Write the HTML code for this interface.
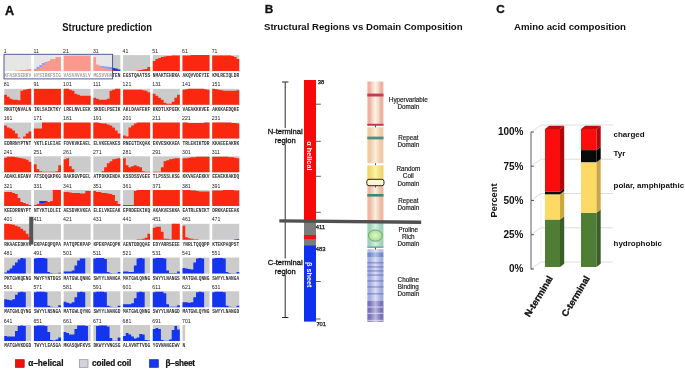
<!DOCTYPE html>
<html><head><meta charset="utf-8"><title>Structure prediction</title>
<style>html,body{margin:0;padding:0;background:#fff}svg{display:block}text{font-family:"Liberation Sans",Arial,sans-serif;fill:#111}.b{font-weight:bold}.m{font-family:"Liberation Mono",monospace;font-size:4.5px;fill:#333;font-weight:bold}.n{font-size:6.2px;fill:#222}.d{font-size:6.3px;text-anchor:middle;fill:#222;stroke:#222;stroke-width:.18px}</style></head>
<body>
<svg width="685" height="370" viewBox="0 0 685 370">
<rect width="685" height="370" fill="#fff"/>
<text class="b" x="5" y="15.3" font-size="12.6" stroke="#111" stroke-width=".35">A</text>
<text class="b" x="62.3" y="30.7" font-size="10" textLength="89.8" lengthAdjust="spacingAndGlyphs">Structure prediction</text>
<text class="b" x="264.8" y="13.1" font-size="11.8" stroke="#111" stroke-width=".3">B</text>
<text class="b" x="264" y="30.1" font-size="9.7" textLength="198.6" lengthAdjust="spacingAndGlyphs">Structural Regions vs Domain Composition</text>
<text class="b" x="496.2" y="13.3" font-size="11.8" stroke="#111" stroke-width=".3">C</text>
<text class="b" x="514" y="30.1" font-size="9.7" textLength="112" lengthAdjust="spacingAndGlyphs">Amino acid composition</text>
<g>
<text class="n" transform="translate(3.7,52.7) scale(.84,1)">1</text>
<rect x="4.20" y="55.10" width="27.00" height="16.0" fill="#cbcbcb"/>
<path d="M4.20 71.10L4.20 71.10L6.90 71.10L6.90 71.10L9.60 71.10L9.60 71.10L12.30 71.10L12.30 71.10L15.00 71.10L15.00 70.60L17.70 70.60L17.70 70.60L20.40 70.60L20.40 70.10L23.10 70.10L23.10 70.10L25.80 70.10L25.80 69.60L28.50 69.60L28.50 69.10L31.20 69.10L31.20 71.10Z" fill="#fb2810"/>
<text class="m" x="4.2" y="77.1" textLength="27.0" lengthAdjust="spacingAndGlyphs">KFASKSERKV</text>
<text class="n" transform="translate(33.4,52.7) scale(.84,1)">11</text>
<rect x="33.92" y="55.10" width="27.00" height="16.0" fill="#cbcbcb"/>
<path d="M33.92 71.10L33.92 69.10L36.62 69.10L36.62 67.10L39.32 67.10L39.32 65.10L42.02 65.10L42.02 63.10L44.72 63.10L44.72 62.10L47.42 62.10L47.42 71.10L50.12 71.10L50.12 71.10L52.82 71.10L52.82 71.10L55.52 71.10L55.52 71.10L58.22 71.10L58.22 71.10L60.92 71.10L60.92 71.10Z" fill="#1434ee"/>
<path d="M33.92 71.10L33.92 70.10L36.62 70.10L36.62 69.10L39.32 69.10L39.32 67.10L42.02 67.10L42.02 65.10L44.72 65.10L44.72 63.10L47.42 63.10L47.42 61.10L50.12 61.10L50.12 59.10L52.82 59.10L52.82 59.10L55.52 59.10L55.52 57.10L58.22 57.10L58.22 57.10L60.92 57.10L60.92 71.10Z" fill="#fb2810"/>
<text class="m" x="33.9" y="77.1" textLength="27.0" lengthAdjust="spacingAndGlyphs">HYSIRKFSIG</text>
<text class="n" transform="translate(63.1,52.7) scale(.84,1)">21</text>
<rect x="63.64" y="55.10" width="27.00" height="16.0" fill="#cbcbcb"/>
<path d="M63.64 71.10L63.64 55.60L66.34 55.60L66.34 55.60L69.04 55.60L69.04 55.60L71.74 55.60L71.74 55.60L74.44 55.60L74.44 55.60L77.14 55.60L77.14 55.60L79.84 55.60L79.84 55.60L82.54 55.60L82.54 55.60L85.24 55.60L85.24 55.60L87.94 55.60L87.94 55.60L90.64 55.60L90.64 71.10Z" fill="#fb2810"/>
<text class="m" x="63.6" y="77.1" textLength="27.0" lengthAdjust="spacingAndGlyphs">VASVAVASLV</text>
<text class="n" transform="translate(92.9,52.7) scale(.84,1)">31</text>
<rect x="93.36" y="55.10" width="27.00" height="16.0" fill="#cbcbcb"/>
<path d="M93.36 71.10L93.36 71.10L96.06 71.10L96.06 71.10L98.76 71.10L98.76 65.80L101.46 65.80L101.46 66.10L104.16 66.10L104.16 66.40L106.86 66.40L106.86 66.80L109.56 66.80L109.56 67.10L112.26 67.10L112.26 68.10L114.96 68.10L114.96 68.60L117.66 68.60L117.66 69.60L120.36 69.60L120.36 71.10Z" fill="#1434ee"/>
<path d="M93.36 71.10L93.36 57.10L96.06 57.10L96.06 64.60L98.76 64.60L98.76 66.60L101.46 66.60L101.46 67.60L104.16 67.60L104.16 68.60L106.86 68.60L106.86 69.10L109.56 69.10L109.56 69.60L112.26 69.60L112.26 70.10L114.96 70.10L114.96 71.10L117.66 71.10L117.66 71.10L120.36 71.10L120.36 71.10Z" fill="#fb2810"/>
<text class="m" x="93.4" y="77.1" textLength="27.0" lengthAdjust="spacingAndGlyphs">MGSVVHATEN</text>
<text class="n" transform="translate(122.6,52.7) scale(.84,1)">41</text>
<rect x="123.08" y="55.10" width="27.00" height="16.0" fill="#cbcbcb"/>
<path d="M123.08 71.10L123.08 71.10L125.78 71.10L125.78 71.10L128.48 71.10L128.48 71.10L131.18 71.10L131.18 71.10L133.88 71.10L133.88 71.10L136.58 71.10L136.58 70.60L139.28 70.60L139.28 70.10L141.98 70.10L141.98 69.60L144.68 69.60L144.68 69.10L147.38 69.10L147.38 67.10L150.08 67.10L150.08 71.10Z" fill="#fb2810"/>
<text class="m" x="123.1" y="77.1" textLength="27.0" lengthAdjust="spacingAndGlyphs">EGSTQAATSS</text>
<text class="n" transform="translate(152.3,52.7) scale(.84,1)">51</text>
<rect x="152.80" y="55.10" width="27.00" height="16.0" fill="#cbcbcb"/>
<path d="M152.80 71.10L152.80 61.10L155.50 61.10L155.50 59.10L158.20 59.10L158.20 58.10L160.90 58.10L160.90 57.10L163.60 57.10L163.60 56.60L166.30 56.60L166.30 56.10L169.00 56.10L169.00 56.10L171.70 56.10L171.70 55.60L174.40 55.60L174.40 55.60L177.10 55.60L177.10 55.60L179.80 55.60L179.80 71.10Z" fill="#fb2810"/>
<text class="m" x="152.8" y="77.1" textLength="27.0" lengthAdjust="spacingAndGlyphs">NMAKTEHRKA</text>
<text class="n" transform="translate(182.0,52.7) scale(.84,1)">61</text>
<rect x="182.52" y="55.10" width="27.00" height="16.0" fill="#cbcbcb"/>
<path d="M182.52 71.10L182.52 55.60L185.22 55.60L185.22 55.60L187.92 55.60L187.92 55.60L190.62 55.60L190.62 55.10L193.32 55.10L193.32 55.10L196.02 55.10L196.02 55.10L198.72 55.10L198.72 55.10L201.42 55.10L201.42 55.10L204.12 55.10L204.12 55.10L206.82 55.10L206.82 55.10L209.52 55.10L209.52 71.10Z" fill="#fb2810"/>
<text class="m" x="182.5" y="77.1" textLength="27.0" lengthAdjust="spacingAndGlyphs">AKQVVDEYIE</text>
<text class="n" transform="translate(211.7,52.7) scale(.84,1)">71</text>
<rect x="212.24" y="55.10" width="27.00" height="16.0" fill="#cbcbcb"/>
<path d="M212.24 71.10L212.24 55.60L214.94 55.60L214.94 55.60L217.64 55.60L217.64 55.60L220.34 55.60L220.34 55.60L223.04 55.60L223.04 55.60L225.74 55.60L225.74 55.60L228.44 55.60L228.44 55.60L231.14 55.60L231.14 56.10L233.84 56.10L233.84 57.10L236.54 57.10L236.54 59.10L239.24 59.10L239.24 71.10Z" fill="#fb2810"/>
<text class="m" x="212.2" y="77.1" textLength="27.0" lengthAdjust="spacingAndGlyphs">KMLREIQLDR</text>
<text class="n" transform="translate(3.7,86.4) scale(.84,1)">81</text>
<rect x="4.20" y="88.84" width="27.00" height="16.0" fill="#cbcbcb"/>
<path d="M4.20 104.84L4.20 94.84L6.90 94.84L6.90 96.84L9.60 96.84L9.60 98.84L12.30 98.84L12.30 99.84L15.00 99.84L15.00 99.84L17.70 99.84L17.70 100.34L20.40 100.34L20.40 90.84L23.10 90.84L23.10 89.84L25.80 89.84L25.80 89.34L28.50 89.34L28.50 88.84L31.20 88.84L31.20 104.84Z" fill="#fb2810"/>
<text class="m" x="4.2" y="110.8" textLength="27.0" lengthAdjust="spacingAndGlyphs">RKHTQNVALN</text>
<text class="n" transform="translate(33.4,86.4) scale(.84,1)">91</text>
<rect x="33.92" y="88.84" width="27.00" height="16.0" fill="#cbcbcb"/>
<path d="M33.92 104.84L33.92 88.84L36.62 88.84L36.62 88.84L39.32 88.84L39.32 88.84L42.02 88.84L42.02 88.84L44.72 88.84L44.72 88.84L47.42 88.84L47.42 88.84L50.12 88.84L50.12 88.84L52.82 88.84L52.82 88.84L55.52 88.84L55.52 88.84L58.22 88.84L58.22 88.84L60.92 88.84L60.92 104.84Z" fill="#fb2810"/>
<text class="m" x="33.9" y="110.8" textLength="27.0" lengthAdjust="spacingAndGlyphs">IKLSAIKTKY</text>
<text class="n" transform="translate(63.1,86.4) scale(.84,1)">101</text>
<rect x="63.64" y="88.84" width="27.00" height="16.0" fill="#cbcbcb"/>
<path d="M63.64 104.84L63.64 88.84L66.34 88.84L66.34 88.84L69.04 88.84L69.04 89.84L71.74 89.84L71.74 90.84L74.44 90.84L74.44 93.84L77.14 93.84L77.14 94.84L79.84 94.84L79.84 95.84L82.54 95.84L82.54 95.84L85.24 95.84L85.24 95.84L87.94 95.84L87.94 95.84L90.64 95.84L90.64 104.84Z" fill="#fb2810"/>
<text class="m" x="63.6" y="110.8" textLength="27.0" lengthAdjust="spacingAndGlyphs">LRELNVLEEK</text>
<text class="n" transform="translate(92.9,86.4) scale(.84,1)">111</text>
<rect x="93.36" y="88.84" width="27.00" height="16.0" fill="#cbcbcb"/>
<path d="M93.36 104.84L93.36 97.84L96.06 97.84L96.06 98.84L98.76 98.84L98.76 99.84L101.46 99.84L101.46 99.84L104.16 99.84L104.16 99.84L106.86 99.84L106.86 98.84L109.56 98.84L109.56 90.84L112.26 90.84L112.26 89.84L114.96 89.84L114.96 88.84L117.66 88.84L117.66 88.84L120.36 88.84L120.36 104.84Z" fill="#fb2810"/>
<text class="m" x="93.4" y="110.8" textLength="27.0" lengthAdjust="spacingAndGlyphs">SKDELPSEIK</text>
<text class="n" transform="translate(122.6,86.4) scale(.84,1)">121</text>
<rect x="123.08" y="88.84" width="27.00" height="16.0" fill="#cbcbcb"/>
<path d="M123.08 104.84L123.08 89.84L125.78 89.84L125.78 89.84L128.48 89.84L128.48 89.84L131.18 89.84L131.18 89.84L133.88 89.84L133.88 89.84L136.58 89.84L136.58 89.84L139.28 89.84L139.28 89.84L141.98 89.84L141.98 90.34L144.68 90.34L144.68 90.84L147.38 90.84L147.38 92.34L150.08 92.34L150.08 104.84Z" fill="#fb2810"/>
<text class="m" x="123.1" y="110.8" textLength="27.0" lengthAdjust="spacingAndGlyphs">AKLDAAFEKF</text>
<text class="n" transform="translate(152.3,86.4) scale(.84,1)">131</text>
<rect x="152.80" y="88.84" width="27.00" height="16.0" fill="#cbcbcb"/>
<path d="M152.80 104.84L152.80 93.84L155.50 93.84L155.50 95.84L158.20 95.84L158.20 97.84L160.90 97.84L160.90 99.84L163.60 99.84L163.60 102.84L166.30 102.84L166.30 103.84L169.00 103.84L169.00 103.84L171.70 103.84L171.70 101.84L174.40 101.84L174.40 97.84L177.10 97.84L177.10 94.84L179.80 94.84L179.80 104.84Z" fill="#fb2810"/>
<text class="m" x="152.8" y="110.8" textLength="27.0" lengthAdjust="spacingAndGlyphs">KKDTLKPGEK</text>
<text class="n" transform="translate(182.0,86.4) scale(.84,1)">141</text>
<rect x="182.52" y="88.84" width="27.00" height="16.0" fill="#cbcbcb"/>
<path d="M182.52 104.84L182.52 89.84L185.22 89.84L185.22 89.34L187.92 89.34L187.92 88.84L190.62 88.84L190.62 88.84L193.32 88.84L193.32 88.84L196.02 88.84L196.02 88.84L198.72 88.84L198.72 88.84L201.42 88.84L201.42 88.84L204.12 88.84L204.12 89.34L206.82 89.34L206.82 89.84L209.52 89.84L209.52 104.84Z" fill="#fb2810"/>
<text class="m" x="182.5" y="110.8" textLength="27.0" lengthAdjust="spacingAndGlyphs">VAEAKKKVEE</text>
<text class="n" transform="translate(211.7,86.4) scale(.84,1)">151</text>
<rect x="212.24" y="88.84" width="27.00" height="16.0" fill="#cbcbcb"/>
<path d="M212.24 104.84L212.24 88.84L214.94 88.84L214.94 89.34L217.64 89.34L217.64 89.84L220.34 89.84L220.34 90.34L223.04 90.34L223.04 90.84L225.74 90.84L225.74 90.84L228.44 90.84L228.44 90.84L231.14 90.84L231.14 90.84L233.84 90.84L233.84 90.84L236.54 90.84L236.54 90.34L239.24 90.34L239.24 104.84Z" fill="#fb2810"/>
<text class="m" x="212.2" y="110.8" textLength="27.0" lengthAdjust="spacingAndGlyphs">AKKKAEDQKE</text>
<text class="n" transform="translate(3.7,120.2) scale(.84,1)">161</text>
<rect x="4.20" y="122.58" width="27.00" height="16.0" fill="#cbcbcb"/>
<path d="M4.20 138.58L4.20 125.58L6.90 125.58L6.90 127.58L9.60 127.58L9.60 128.58L12.30 128.58L12.30 130.58L15.00 130.58L15.00 133.58L17.70 133.58L17.70 137.58L20.40 137.58L20.40 138.58L23.10 138.58L23.10 136.58L25.80 136.58L25.80 133.58L28.50 133.58L28.50 131.58L31.20 131.58L31.20 138.58Z" fill="#fb2810"/>
<text class="m" x="4.2" y="144.6" textLength="27.0" lengthAdjust="spacingAndGlyphs">EDRRNYPTNT</text>
<text class="n" transform="translate(33.4,120.2) scale(.84,1)">171</text>
<rect x="33.92" y="122.58" width="27.00" height="16.0" fill="#cbcbcb"/>
<path d="M33.92 138.58L33.92 128.58L36.62 128.58L36.62 128.58L39.32 128.58L39.32 128.58L42.02 128.58L42.02 122.58L44.72 122.58L44.72 122.58L47.42 122.58L47.42 122.58L50.12 122.58L50.12 122.58L52.82 122.58L52.82 122.58L55.52 122.58L55.52 122.58L58.22 122.58L58.22 122.58L60.92 122.58L60.92 138.58Z" fill="#fb2810"/>
<text class="m" x="33.9" y="144.6" textLength="27.0" lengthAdjust="spacingAndGlyphs">YKTLELEIAE</text>
<text class="n" transform="translate(63.1,120.2) scale(.84,1)">181</text>
<rect x="63.64" y="122.58" width="27.00" height="16.0" fill="#cbcbcb"/>
<path d="M63.64 138.58L63.64 122.58L66.34 122.58L66.34 122.58L69.04 122.58L69.04 122.58L71.74 122.58L71.74 122.58L74.44 122.58L74.44 122.58L77.14 122.58L77.14 122.58L79.84 122.58L79.84 122.58L82.54 122.58L82.54 122.58L85.24 122.58L85.24 122.58L87.94 122.58L87.94 122.58L90.64 122.58L90.64 138.58Z" fill="#fb2810"/>
<text class="m" x="63.6" y="144.6" textLength="27.0" lengthAdjust="spacingAndGlyphs">FDVKVKEAEL</text>
<text class="n" transform="translate(92.9,120.2) scale(.84,1)">191</text>
<rect x="93.36" y="122.58" width="27.00" height="16.0" fill="#cbcbcb"/>
<path d="M93.36 138.58L93.36 122.58L96.06 122.58L96.06 122.58L98.76 122.58L98.76 123.08L101.46 123.08L101.46 123.58L104.16 123.58L104.16 123.58L106.86 123.58L106.86 124.58L109.56 124.58L109.56 125.58L112.26 125.58L112.26 127.58L114.96 127.58L114.96 130.58L117.66 130.58L117.66 133.58L120.36 133.58L120.36 138.58Z" fill="#fb2810"/>
<text class="m" x="93.4" y="144.6" textLength="27.0" lengthAdjust="spacingAndGlyphs">ELVKEEAKES</text>
<text class="n" transform="translate(122.6,120.2) scale(.84,1)">201</text>
<rect x="123.08" y="122.58" width="27.00" height="16.0" fill="#cbcbcb"/>
<path d="M123.08 138.58L123.08 135.58L125.78 135.58L125.78 136.58L128.48 136.58L128.48 127.58L131.18 127.58L131.18 125.58L133.88 125.58L133.88 123.58L136.58 123.58L136.58 122.58L139.28 122.58L139.28 122.58L141.98 122.58L141.98 122.58L144.68 122.58L144.68 122.58L147.38 122.58L147.38 122.58L150.08 122.58L150.08 138.58Z" fill="#fb2810"/>
<text class="m" x="123.1" y="144.6" textLength="27.0" lengthAdjust="spacingAndGlyphs">RNEGTIKQAK</text>
<text class="n" transform="translate(152.3,120.2) scale(.84,1)">211</text>
<rect x="152.80" y="122.58" width="27.00" height="16.0" fill="#cbcbcb"/>
<path d="M152.80 138.58L152.80 122.58L155.50 122.58L155.50 122.58L158.20 122.58L158.20 122.58L160.90 122.58L160.90 122.58L163.60 122.58L163.60 122.58L166.30 122.58L166.30 122.58L169.00 122.58L169.00 122.58L171.70 122.58L171.70 122.58L174.40 122.58L174.40 122.58L177.10 122.58L177.10 122.58L179.80 122.58L179.80 138.58Z" fill="#fb2810"/>
<text class="m" x="152.8" y="144.6" textLength="27.0" lengthAdjust="spacingAndGlyphs">EKVESKKAEA</text>
<text class="n" transform="translate(182.0,120.2) scale(.84,1)">221</text>
<rect x="182.52" y="122.58" width="27.00" height="16.0" fill="#cbcbcb"/>
<path d="M182.52 138.58L182.52 122.58L185.22 122.58L185.22 122.58L187.92 122.58L187.92 123.08L190.62 123.08L190.62 123.08L193.32 123.08L193.32 123.08L196.02 123.08L196.02 123.08L198.72 123.08L198.72 123.08L201.42 123.08L201.42 123.08L204.12 123.08L204.12 122.58L206.82 122.58L206.82 122.58L209.52 122.58L209.52 138.58Z" fill="#fb2810"/>
<text class="m" x="182.5" y="144.6" textLength="27.0" lengthAdjust="spacingAndGlyphs">TRLENIKTDR</text>
<text class="n" transform="translate(211.7,120.2) scale(.84,1)">231</text>
<rect x="212.24" y="122.58" width="27.00" height="16.0" fill="#cbcbcb"/>
<path d="M212.24 138.58L212.24 122.58L214.94 122.58L214.94 122.58L217.64 122.58L217.64 122.58L220.34 122.58L220.34 122.58L223.04 122.58L223.04 122.58L225.74 122.58L225.74 122.58L228.44 122.58L228.44 122.58L231.14 122.58L231.14 123.08L233.84 123.08L233.84 123.08L236.54 123.08L236.54 123.58L239.24 123.58L239.24 138.58Z" fill="#fb2810"/>
<text class="m" x="212.2" y="144.6" textLength="27.0" lengthAdjust="spacingAndGlyphs">KKAEEEAKRK</text>
<text class="n" transform="translate(3.7,153.9) scale(.84,1)">241</text>
<rect x="4.20" y="156.32" width="27.00" height="16.0" fill="#cbcbcb"/>
<path d="M4.20 172.32L4.20 157.82L6.90 157.82L6.90 156.82L9.60 156.82L9.60 156.82L12.30 156.82L12.30 156.82L15.00 156.82L15.00 157.32L17.70 157.32L17.70 157.82L20.40 157.82L20.40 158.32L23.10 158.32L23.10 158.82L25.80 158.82L25.80 159.82L28.50 159.82L28.50 161.82L31.20 161.82L31.20 172.32Z" fill="#fb2810"/>
<text class="m" x="4.2" y="178.3" textLength="27.0" lengthAdjust="spacingAndGlyphs">ADAKLKEANV</text>
<text class="n" transform="translate(33.4,153.9) scale(.84,1)">251</text>
<rect x="33.92" y="156.32" width="27.00" height="16.0" fill="#cbcbcb"/>
<path d="M33.92 172.32L33.92 164.32L36.62 164.32L36.62 169.32L39.32 169.32L39.32 171.32L42.02 171.32L42.02 171.82L44.72 171.82L44.72 171.82L47.42 171.82L47.42 171.82L50.12 171.82L50.12 171.82L52.82 171.82L52.82 171.82L55.52 171.82L55.52 171.32L58.22 171.32L58.22 165.32L60.92 165.32L60.92 172.32Z" fill="#fb2810"/>
<text class="m" x="33.9" y="178.3" textLength="27.0" lengthAdjust="spacingAndGlyphs">ATSDQGKPKG</text>
<text class="n" transform="translate(63.1,153.9) scale(.84,1)">261</text>
<rect x="63.64" y="156.32" width="27.00" height="16.0" fill="#cbcbcb"/>
<path d="M63.64 172.32L63.64 159.32L66.34 159.32L66.34 158.32L69.04 158.32L69.04 166.32L71.74 166.32L71.74 169.32L74.44 169.32L74.44 172.32L77.14 172.32L77.14 172.32L79.84 172.32L79.84 172.32L82.54 172.32L82.54 172.32L85.24 172.32L85.24 172.32L87.94 172.32L87.94 172.32L90.64 172.32L90.64 172.32Z" fill="#fb2810"/>
<text class="m" x="63.6" y="178.3" textLength="27.0" lengthAdjust="spacingAndGlyphs">RAKRGVPGEL</text>
<text class="n" transform="translate(92.9,153.9) scale(.84,1)">271</text>
<rect x="93.36" y="156.32" width="27.00" height="16.0" fill="#cbcbcb"/>
<path d="M93.36 172.32L93.36 172.32L96.06 172.32L96.06 172.32L98.76 172.32L98.76 172.32L101.46 172.32L101.46 171.32L104.16 171.32L104.16 167.32L106.86 167.32L106.86 163.32L109.56 163.32L109.56 161.32L112.26 161.32L112.26 159.32L114.96 159.32L114.96 158.82L117.66 158.82L117.66 158.32L120.36 158.32L120.36 172.32Z" fill="#fb2810"/>
<text class="m" x="93.4" y="178.3" textLength="27.0" lengthAdjust="spacingAndGlyphs">ATPDKKENDA</text>
<text class="n" transform="translate(122.6,153.9) scale(.84,1)">281</text>
<rect x="123.08" y="156.32" width="27.00" height="16.0" fill="#cbcbcb"/>
<path d="M123.08 172.32L123.08 158.32L125.78 158.32L125.78 165.32L128.48 165.32L128.48 167.32L131.18 167.32L131.18 166.32L133.88 166.32L133.88 165.32L136.58 165.32L136.58 166.32L139.28 166.32L139.28 167.32L141.98 167.32L141.98 171.32L144.68 171.32L144.68 171.82L147.38 171.82L147.38 171.82L150.08 171.82L150.08 172.32Z" fill="#fb2810"/>
<text class="m" x="123.1" y="178.3" textLength="27.0" lengthAdjust="spacingAndGlyphs">KSSDSSVGEE</text>
<text class="n" transform="translate(152.3,153.9) scale(.84,1)">291</text>
<rect x="152.80" y="156.32" width="27.00" height="16.0" fill="#cbcbcb"/>
<path d="M152.80 172.32L152.80 171.82L155.50 171.82L155.50 171.82L158.20 171.82L158.20 171.82L160.90 171.82L160.90 167.32L163.60 167.32L163.60 161.32L166.30 161.32L166.30 160.32L169.00 160.32L169.00 159.32L171.70 159.32L171.70 158.82L174.40 158.82L174.40 158.32L177.10 158.32L177.10 158.32L179.80 158.32L179.80 172.32Z" fill="#fb2810"/>
<text class="m" x="152.8" y="178.3" textLength="27.0" lengthAdjust="spacingAndGlyphs">TLPSSSLKSG</text>
<text class="n" transform="translate(182.0,153.9) scale(.84,1)">301</text>
<rect x="182.52" y="156.32" width="27.00" height="16.0" fill="#cbcbcb"/>
<path d="M182.52 172.32L182.52 158.32L185.22 158.32L185.22 158.32L187.92 158.32L187.92 157.82L190.62 157.82L190.62 157.32L193.32 157.32L193.32 157.32L196.02 157.32L196.02 156.82L198.72 156.82L198.72 156.82L201.42 156.82L201.42 156.82L204.12 156.82L204.12 156.82L206.82 156.82L206.82 156.82L209.52 156.82L209.52 172.32Z" fill="#fb2810"/>
<text class="m" x="182.5" y="178.3" textLength="27.0" lengthAdjust="spacingAndGlyphs">KKVAEAEKKV</text>
<text class="n" transform="translate(211.7,153.9) scale(.84,1)">311</text>
<rect x="212.24" y="156.32" width="27.00" height="16.0" fill="#cbcbcb"/>
<path d="M212.24 172.32L212.24 156.82L214.94 156.82L214.94 156.82L217.64 156.82L217.64 156.82L220.34 156.82L220.34 156.82L223.04 156.82L223.04 156.82L225.74 156.82L225.74 156.82L228.44 156.82L228.44 157.32L231.14 157.32L231.14 157.32L233.84 157.32L233.84 157.82L236.54 157.82L236.54 158.32L239.24 158.32L239.24 172.32Z" fill="#fb2810"/>
<text class="m" x="212.2" y="178.3" textLength="27.0" lengthAdjust="spacingAndGlyphs">EEAEKKAKDQ</text>
<text class="n" transform="translate(3.7,187.7) scale(.84,1)">321</text>
<rect x="4.20" y="190.06" width="27.00" height="16.0" fill="#cbcbcb"/>
<path d="M4.20 206.06L4.20 192.06L6.90 192.06L6.90 192.06L9.60 192.06L9.60 192.06L12.30 192.06L12.30 193.06L15.00 193.06L15.00 194.06L17.70 194.06L17.70 198.06L20.40 198.06L20.40 202.06L23.10 202.06L23.10 203.06L25.80 203.06L25.80 204.06L28.50 204.06L28.50 205.06L31.20 205.06L31.20 206.06Z" fill="#fb2810"/>
<text class="m" x="4.2" y="212.1" textLength="27.0" lengthAdjust="spacingAndGlyphs">KEEDRRNYPT</text>
<text class="n" transform="translate(33.4,187.7) scale(.84,1)">331</text>
<rect x="33.92" y="190.06" width="27.00" height="16.0" fill="#cbcbcb"/>
<path d="M33.92 206.06L33.92 206.06L36.62 206.06L36.62 206.06L39.32 206.06L39.32 201.06L42.02 201.06L42.02 201.06L44.72 201.06L44.72 201.06L47.42 201.06L47.42 206.06L50.12 206.06L50.12 206.06L52.82 206.06L52.82 206.06L55.52 206.06L55.52 206.06L58.22 206.06L58.22 206.06L60.92 206.06L60.92 206.06Z" fill="#1434ee"/>
<path d="M33.92 206.06L33.92 205.06L36.62 205.06L36.62 204.06L39.32 204.06L39.32 203.06L42.02 203.06L42.02 203.06L44.72 203.06L44.72 202.06L47.42 202.06L47.42 202.06L50.12 202.06L50.12 201.06L52.82 201.06L52.82 190.06L55.52 190.06L55.52 190.06L58.22 190.06L58.22 190.06L60.92 190.06L60.92 206.06Z" fill="#fb2810"/>
<text class="m" x="33.9" y="212.1" textLength="27.0" lengthAdjust="spacingAndGlyphs">NTYKTLDLEI</text>
<text class="n" transform="translate(63.1,187.7) scale(.84,1)">341</text>
<rect x="63.64" y="190.06" width="27.00" height="16.0" fill="#cbcbcb"/>
<path d="M63.64 206.06L63.64 192.06L66.34 192.06L66.34 192.06L69.04 192.06L69.04 192.56L71.74 192.56L71.74 193.06L74.44 193.06L74.44 193.06L77.14 193.06L77.14 193.06L79.84 193.06L79.84 193.56L82.54 193.56L82.54 193.56L85.24 193.56L85.24 191.06L87.94 191.06L87.94 191.06L90.64 191.06L90.64 206.06Z" fill="#fb2810"/>
<text class="m" x="63.6" y="212.1" textLength="27.0" lengthAdjust="spacingAndGlyphs">AESDVKVKEA</text>
<text class="n" transform="translate(92.9,187.7) scale(.84,1)">351</text>
<rect x="93.36" y="190.06" width="27.00" height="16.0" fill="#cbcbcb"/>
<path d="M93.36 206.06L93.36 191.06L96.06 191.06L96.06 192.06L98.76 192.06L98.76 192.06L101.46 192.06L101.46 193.06L104.16 193.06L104.16 193.06L106.86 193.06L106.86 193.56L109.56 193.56L109.56 194.06L112.26 194.06L112.26 195.06L114.96 195.06L114.96 201.06L117.66 201.06L117.66 204.06L120.36 204.06L120.36 206.06Z" fill="#fb2810"/>
<text class="m" x="93.4" y="212.1" textLength="27.0" lengthAdjust="spacingAndGlyphs">ELELVKEEAK</text>
<text class="n" transform="translate(122.6,187.7) scale(.84,1)">361</text>
<rect x="123.08" y="190.06" width="27.00" height="16.0" fill="#cbcbcb"/>
<path d="M123.08 206.06L123.08 205.06L125.78 205.06L125.78 205.06L128.48 205.06L128.48 205.06L131.18 205.06L131.18 205.06L133.88 205.06L133.88 191.06L136.58 191.06L136.58 190.06L139.28 190.06L139.28 190.06L141.98 190.06L141.98 190.06L144.68 190.06L144.68 190.06L147.38 190.06L147.38 190.06L150.08 190.06L150.08 206.06Z" fill="#fb2810"/>
<text class="m" x="123.1" y="212.1" textLength="27.0" lengthAdjust="spacingAndGlyphs">EPRDEEKIKQ</text>
<text class="n" transform="translate(152.3,187.7) scale(.84,1)">371</text>
<rect x="152.80" y="190.06" width="27.00" height="16.0" fill="#cbcbcb"/>
<path d="M152.80 206.06L152.80 190.06L155.50 190.06L155.50 190.06L158.20 190.06L158.20 190.06L160.90 190.06L160.90 190.06L163.60 190.06L163.60 190.06L166.30 190.06L166.30 190.06L169.00 190.06L169.00 190.06L171.70 190.06L171.70 190.06L174.40 190.06L174.40 190.06L177.10 190.06L177.10 190.06L179.80 190.06L179.80 206.06Z" fill="#fb2810"/>
<text class="m" x="152.8" y="212.1" textLength="27.0" lengthAdjust="spacingAndGlyphs">AKAKVESKKA</text>
<text class="n" transform="translate(182.0,187.7) scale(.84,1)">381</text>
<rect x="182.52" y="190.06" width="27.00" height="16.0" fill="#cbcbcb"/>
<path d="M182.52 206.06L182.52 190.06L185.22 190.06L185.22 190.06L187.92 190.06L187.92 190.06L190.62 190.06L190.62 190.56L193.32 190.56L193.32 190.56L196.02 190.56L196.02 191.06L198.72 191.06L198.72 191.56L201.42 191.56L201.42 191.56L204.12 191.56L204.12 191.56L206.82 191.56L206.82 191.56L209.52 191.56L209.52 206.06Z" fill="#fb2810"/>
<text class="m" x="182.5" y="212.1" textLength="27.0" lengthAdjust="spacingAndGlyphs">EATRLENIKT</text>
<text class="n" transform="translate(211.7,187.7) scale(.84,1)">391</text>
<rect x="212.24" y="190.06" width="27.00" height="16.0" fill="#cbcbcb"/>
<path d="M212.24 206.06L212.24 190.56L214.94 190.56L214.94 190.56L217.64 190.56L217.64 190.56L220.34 190.56L220.34 190.56L223.04 190.56L223.04 190.06L225.74 190.06L225.74 190.06L228.44 190.06L228.44 190.06L231.14 190.06L231.14 190.06L233.84 190.06L233.84 190.56L236.54 190.56L236.54 190.56L239.24 190.56L239.24 206.06Z" fill="#fb2810"/>
<text class="m" x="212.2" y="212.1" textLength="27.0" lengthAdjust="spacingAndGlyphs">DRKKAEEEAK</text>
<text class="n" transform="translate(3.7,221.4) scale(.84,1)">401</text>
<rect x="4.20" y="223.80" width="27.00" height="16.0" fill="#cbcbcb"/>
<path d="M4.20 239.80L4.20 223.80L6.90 223.80L6.90 223.80L9.60 223.80L9.60 224.30L12.30 224.30L12.30 224.80L15.00 224.80L15.00 225.80L17.70 225.80L17.70 226.80L20.40 226.80L20.40 228.80L23.10 228.80L23.10 230.80L25.80 230.80L25.80 233.80L28.50 233.80L28.50 236.80L31.20 236.80L31.20 239.80Z" fill="#fb2810"/>
<text class="m" x="4.2" y="245.8" textLength="27.0" lengthAdjust="spacingAndGlyphs">RKAAEEDKVK</text>
<text class="n" transform="translate(33.4,221.4) scale(.84,1)">411</text>
<rect x="33.92" y="223.80" width="27.00" height="16.0" fill="#cbcbcb"/>
<text class="m" x="33.9" y="245.8" textLength="27.0" lengthAdjust="spacingAndGlyphs">EKPAEQPQPA</text>
<text class="n" transform="translate(63.1,221.4) scale(.84,1)">421</text>
<rect x="63.64" y="223.80" width="27.00" height="16.0" fill="#cbcbcb"/>
<text class="m" x="63.6" y="245.8" textLength="27.0" lengthAdjust="spacingAndGlyphs">PATQPEKPAP</text>
<text class="n" transform="translate(92.9,221.4) scale(.84,1)">431</text>
<rect x="93.36" y="223.80" width="27.00" height="16.0" fill="#cbcbcb"/>
<text class="m" x="93.4" y="245.8" textLength="27.0" lengthAdjust="spacingAndGlyphs">KPEKPAEQPK</text>
<text class="n" transform="translate(122.6,221.4) scale(.84,1)">441</text>
<rect x="123.08" y="223.80" width="27.00" height="16.0" fill="#cbcbcb"/>
<path d="M123.08 239.80L123.08 239.80L125.78 239.80L125.78 239.80L128.48 239.80L128.48 239.80L131.18 239.80L131.18 239.80L133.88 239.80L133.88 239.80L136.58 239.80L136.58 239.30L139.28 239.30L139.28 239.30L141.98 239.30L141.98 238.80L144.68 238.80L144.68 237.80L147.38 237.80L147.38 233.80L150.08 233.80L150.08 239.80Z" fill="#fb2810"/>
<text class="m" x="123.1" y="245.8" textLength="27.0" lengthAdjust="spacingAndGlyphs">AENTDDQQAE</text>
<text class="n" transform="translate(152.3,221.4) scale(.84,1)">451</text>
<rect x="152.80" y="223.80" width="27.00" height="16.0" fill="#cbcbcb"/>
<path d="M152.80 239.80L152.80 227.80L155.50 227.80L155.50 226.80L158.20 226.80L158.20 226.80L160.90 226.80L160.90 231.80L163.60 231.80L163.60 238.80L166.30 238.80L166.30 238.80L169.00 238.80L169.00 239.30L171.70 239.30L171.70 223.80L174.40 223.80L174.40 223.80L177.10 223.80L177.10 223.80L179.80 223.80L179.80 239.80Z" fill="#fb2810"/>
<text class="m" x="152.8" y="245.8" textLength="27.0" lengthAdjust="spacingAndGlyphs">EDYARRSEEE</text>
<text class="n" transform="translate(182.0,221.4) scale(.84,1)">461</text>
<rect x="182.52" y="223.80" width="27.00" height="16.0" fill="#cbcbcb"/>
<path d="M182.52 239.80L182.52 225.80L185.22 225.80L185.22 237.30L187.92 237.30L187.92 238.30L190.62 238.30L190.62 238.80L193.32 238.80L193.32 239.30L196.02 239.30L196.02 239.30L198.72 239.30L198.72 239.80L201.42 239.80L201.42 239.80L204.12 239.80L204.12 239.80L206.82 239.80L206.82 239.80L209.52 239.80L209.52 239.80Z" fill="#fb2810"/>
<text class="m" x="182.5" y="245.8" textLength="27.0" lengthAdjust="spacingAndGlyphs">YNRLTQQQPP</text>
<text class="n" transform="translate(211.7,221.4) scale(.84,1)">471</text>
<rect x="212.24" y="223.80" width="27.00" height="16.0" fill="#cbcbcb"/>
<path d="M212.24 239.80L212.24 239.80L214.94 239.80L214.94 239.80L217.64 239.80L217.64 239.80L220.34 239.80L220.34 239.80L223.04 239.80L223.04 239.80L225.74 239.80L225.74 239.80L228.44 239.80L228.44 239.80L231.14 239.80L231.14 239.80L233.84 239.80L233.84 239.30L236.54 239.30L236.54 239.10L239.24 239.10L239.24 239.80Z" fill="#1434ee"/>
<text class="m" x="212.2" y="245.8" textLength="27.0" lengthAdjust="spacingAndGlyphs">KTEKPAQPST</text>
<text class="n" transform="translate(3.7,255.1) scale(.84,1)">481</text>
<rect x="4.20" y="257.54" width="27.00" height="16.0" fill="#cbcbcb"/>
<path d="M4.20 273.54L4.20 272.54L6.90 272.54L6.90 270.54L9.60 270.54L9.60 268.54L12.30 268.54L12.30 265.54L15.00 265.54L15.00 262.54L17.70 262.54L17.70 259.54L20.40 259.54L20.40 258.04L23.10 258.04L23.10 258.54L25.80 258.54L25.80 273.54L28.50 273.54L28.50 273.54L31.20 273.54L31.20 273.54Z" fill="#1434ee"/>
<text class="m" x="4.2" y="279.5" textLength="27.0" lengthAdjust="spacingAndGlyphs">PKTGWKQENG</text>
<text class="n" transform="translate(33.4,255.1) scale(.84,1)">491</text>
<rect x="33.92" y="257.54" width="27.00" height="16.0" fill="#cbcbcb"/>
<path d="M33.92 273.54L33.92 258.54L36.62 258.54L36.62 258.04L39.32 258.04L39.32 258.04L42.02 258.04L42.02 258.04L44.72 258.04L44.72 258.54L47.42 258.54L47.42 272.04L50.12 272.04L50.12 273.04L52.82 273.04L52.82 273.24L55.52 273.24L55.52 273.24L58.22 273.24L58.22 272.74L60.92 272.74L60.92 273.54Z" fill="#1434ee"/>
<text class="m" x="33.9" y="279.5" textLength="27.0" lengthAdjust="spacingAndGlyphs">MWYFYNTDGS</text>
<text class="n" transform="translate(63.1,255.1) scale(.84,1)">501</text>
<rect x="63.64" y="257.54" width="27.00" height="16.0" fill="#cbcbcb"/>
<path d="M63.64 273.54L63.64 271.54L66.34 271.54L66.34 271.54L69.04 271.54L69.04 271.54L71.74 271.54L71.74 270.54L74.44 270.54L74.44 265.54L77.14 265.54L77.14 260.54L79.84 260.54L79.84 258.54L82.54 258.54L82.54 258.54L85.24 258.54L85.24 273.54L87.94 273.54L87.94 273.54L90.64 273.54L90.64 273.54Z" fill="#1434ee"/>
<text class="m" x="63.6" y="279.5" textLength="27.0" lengthAdjust="spacingAndGlyphs">MATGWLQNNG</text>
<text class="n" transform="translate(92.9,255.1) scale(.84,1)">511</text>
<rect x="93.36" y="257.54" width="27.00" height="16.0" fill="#cbcbcb"/>
<path d="M93.36 273.54L93.36 258.54L96.06 258.54L96.06 258.04L98.76 258.04L98.76 258.04L101.46 258.04L101.46 258.04L104.16 258.04L104.16 259.04L106.86 259.04L106.86 272.04L109.56 272.04L109.56 273.04L112.26 273.04L112.26 273.24L114.96 273.24L114.96 273.24L117.66 273.24L117.66 272.04L120.36 272.04L120.36 273.54Z" fill="#1434ee"/>
<text class="m" x="93.4" y="279.5" textLength="27.0" lengthAdjust="spacingAndGlyphs">SWYYLNANGA</text>
<text class="n" transform="translate(122.6,255.1) scale(.84,1)">521</text>
<rect x="123.08" y="257.54" width="27.00" height="16.0" fill="#cbcbcb"/>
<path d="M123.08 273.54L123.08 271.54L125.78 271.54L125.78 271.54L128.48 271.54L128.48 272.04L131.18 272.04L131.18 272.04L133.88 272.04L133.88 265.54L136.58 265.54L136.58 258.54L139.28 258.54L139.28 258.04L141.98 258.04L141.98 258.54L144.68 258.54L144.68 273.54L147.38 273.54L147.38 273.54L150.08 273.54L150.08 273.54Z" fill="#1434ee"/>
<text class="m" x="123.1" y="279.5" textLength="27.0" lengthAdjust="spacingAndGlyphs">MATGWLQNNG</text>
<text class="n" transform="translate(152.3,255.1) scale(.84,1)">531</text>
<rect x="152.80" y="257.54" width="27.00" height="16.0" fill="#cbcbcb"/>
<path d="M152.80 273.54L152.80 258.54L155.50 258.54L155.50 258.04L158.20 258.04L158.20 258.04L160.90 258.04L160.90 258.04L163.60 258.04L163.60 258.54L166.30 258.54L166.30 270.54L169.00 270.54L169.00 273.04L171.70 273.04L171.70 273.04L174.40 273.04L174.40 273.04L177.10 273.04L177.10 271.54L179.80 271.54L179.80 273.54Z" fill="#1434ee"/>
<text class="m" x="152.8" y="279.5" textLength="27.0" lengthAdjust="spacingAndGlyphs">SWYYLNANGS</text>
<text class="n" transform="translate(182.0,255.1) scale(.84,1)">541</text>
<rect x="182.52" y="257.54" width="27.00" height="16.0" fill="#cbcbcb"/>
<path d="M182.52 273.54L182.52 268.04L185.22 268.04L185.22 268.54L187.92 268.54L187.92 269.04L190.62 269.04L190.62 269.54L193.32 269.54L193.32 262.54L196.02 262.54L196.02 258.54L198.72 258.54L198.72 258.04L201.42 258.04L201.42 258.54L204.12 258.54L204.12 273.54L206.82 273.54L206.82 273.54L209.52 273.54L209.52 273.54Z" fill="#1434ee"/>
<text class="m" x="182.5" y="279.5" textLength="27.0" lengthAdjust="spacingAndGlyphs">MATGWLQNNG</text>
<text class="n" transform="translate(211.7,255.1) scale(.84,1)">551</text>
<rect x="212.24" y="257.54" width="27.00" height="16.0" fill="#cbcbcb"/>
<path d="M212.24 273.54L212.24 258.54L214.94 258.54L214.94 258.04L217.64 258.04L217.64 258.04L220.34 258.04L220.34 258.04L223.04 258.04L223.04 258.54L225.74 258.54L225.74 272.04L228.44 272.04L228.44 273.04L231.14 273.04L231.14 273.24L233.84 273.24L233.84 273.24L236.54 273.24L236.54 272.04L239.24 272.04L239.24 273.54Z" fill="#1434ee"/>
<text class="m" x="212.2" y="279.5" textLength="27.0" lengthAdjust="spacingAndGlyphs">SWYYLNANGA</text>
<text class="n" transform="translate(3.7,288.9) scale(.84,1)">561</text>
<rect x="4.20" y="291.28" width="27.00" height="16.0" fill="#cbcbcb"/>
<path d="M4.20 307.28L4.20 299.28L6.90 299.28L6.90 299.78L9.60 299.78L9.60 300.28L12.30 300.28L12.30 299.28L15.00 299.28L15.00 294.78L17.70 294.78L17.70 292.28L20.40 292.28L20.40 291.78L23.10 291.78L23.10 292.28L25.80 292.28L25.80 307.28L28.50 307.28L28.50 307.28L31.20 307.28L31.20 307.28Z" fill="#1434ee"/>
<text class="m" x="4.2" y="313.3" textLength="27.0" lengthAdjust="spacingAndGlyphs">MATGWLQYNG</text>
<text class="n" transform="translate(33.4,288.9) scale(.84,1)">571</text>
<rect x="33.92" y="291.28" width="27.00" height="16.0" fill="#cbcbcb"/>
<path d="M33.92 307.28L33.92 292.28L36.62 292.28L36.62 291.78L39.32 291.78L39.32 291.78L42.02 291.78L42.02 291.78L44.72 291.78L44.72 292.28L47.42 292.28L47.42 305.78L50.12 305.78L50.12 306.78L52.82 306.78L52.82 306.98L55.52 306.98L55.52 306.98L58.22 306.98L58.22 305.28L60.92 305.28L60.92 307.28Z" fill="#1434ee"/>
<text class="m" x="33.9" y="313.3" textLength="27.0" lengthAdjust="spacingAndGlyphs">SWYYLNSNGA</text>
<text class="n" transform="translate(63.1,288.9) scale(.84,1)">581</text>
<rect x="63.64" y="291.28" width="27.00" height="16.0" fill="#cbcbcb"/>
<path d="M63.64 307.28L63.64 301.78L66.34 301.78L66.34 302.78L69.04 302.78L69.04 303.48L71.74 303.48L71.74 302.28L74.44 302.28L74.44 297.28L77.14 297.28L77.14 292.28L79.84 292.28L79.84 291.78L82.54 291.78L82.54 292.28L85.24 292.28L85.24 307.28L87.94 307.28L87.94 307.28L90.64 307.28L90.64 307.28Z" fill="#1434ee"/>
<text class="m" x="63.6" y="313.3" textLength="27.0" lengthAdjust="spacingAndGlyphs">MATGWLQYNG</text>
<text class="n" transform="translate(92.9,288.9) scale(.84,1)">591</text>
<rect x="93.36" y="291.28" width="27.00" height="16.0" fill="#cbcbcb"/>
<path d="M93.36 307.28L93.36 292.28L96.06 292.28L96.06 291.78L98.76 291.78L98.76 291.78L101.46 291.78L101.46 291.78L104.16 291.78L104.16 292.28L106.86 292.28L106.86 305.78L109.56 305.78L109.56 306.78L112.26 306.78L112.26 306.98L114.96 306.98L114.96 306.98L117.66 306.98L117.66 305.78L120.36 305.78L120.36 307.28Z" fill="#1434ee"/>
<text class="m" x="93.4" y="313.3" textLength="27.0" lengthAdjust="spacingAndGlyphs">SWYYLNANGD</text>
<text class="n" transform="translate(122.6,288.9) scale(.84,1)">601</text>
<rect x="123.08" y="291.28" width="27.00" height="16.0" fill="#cbcbcb"/>
<path d="M123.08 307.28L123.08 304.28L125.78 304.28L125.78 304.28L128.48 304.28L128.48 304.28L131.18 304.28L131.18 303.28L133.88 303.28L133.88 298.28L136.58 298.28L136.58 292.28L139.28 292.28L139.28 291.78L141.98 291.78L141.98 292.28L144.68 292.28L144.68 307.28L147.38 307.28L147.38 307.28L150.08 307.28L150.08 307.28Z" fill="#1434ee"/>
<text class="m" x="123.1" y="313.3" textLength="27.0" lengthAdjust="spacingAndGlyphs">MATGWLQNNG</text>
<text class="n" transform="translate(152.3,288.9) scale(.84,1)">611</text>
<rect x="152.80" y="291.28" width="27.00" height="16.0" fill="#cbcbcb"/>
<path d="M152.80 307.28L152.80 292.28L155.50 292.28L155.50 291.78L158.20 291.78L158.20 291.78L160.90 291.78L160.90 291.78L163.60 291.78L163.60 293.28L166.30 293.28L166.30 304.28L169.00 304.28L169.00 306.78L171.70 306.78L171.70 306.78L174.40 306.78L174.40 306.78L177.10 306.78L177.10 305.28L179.80 305.28L179.80 307.28Z" fill="#1434ee"/>
<text class="m" x="152.8" y="313.3" textLength="27.0" lengthAdjust="spacingAndGlyphs">SWYYLNANGD</text>
<text class="n" transform="translate(182.0,288.9) scale(.84,1)">621</text>
<rect x="182.52" y="291.28" width="27.00" height="16.0" fill="#cbcbcb"/>
<path d="M182.52 307.28L182.52 302.28L185.22 302.28L185.22 302.28L187.92 302.28L187.92 302.78L190.62 302.78L190.62 302.28L193.32 302.28L193.32 297.28L196.02 297.28L196.02 292.28L198.72 292.28L198.72 291.78L201.42 291.78L201.42 292.28L204.12 292.28L204.12 307.28L206.82 307.28L206.82 307.28L209.52 307.28L209.52 307.28Z" fill="#1434ee"/>
<text class="m" x="182.5" y="313.3" textLength="27.0" lengthAdjust="spacingAndGlyphs">MATGWLQYNG</text>
<text class="n" transform="translate(211.7,288.9) scale(.84,1)">631</text>
<rect x="212.24" y="291.28" width="27.00" height="16.0" fill="#cbcbcb"/>
<path d="M212.24 307.28L212.24 292.28L214.94 292.28L214.94 291.78L217.64 291.78L217.64 291.78L220.34 291.78L220.34 291.78L223.04 291.78L223.04 292.28L225.74 292.28L225.74 305.78L228.44 305.78L228.44 306.78L231.14 306.78L231.14 306.98L233.84 306.98L233.84 306.98L236.54 306.98L236.54 305.78L239.24 305.78L239.24 307.28Z" fill="#1434ee"/>
<text class="m" x="212.2" y="313.3" textLength="27.0" lengthAdjust="spacingAndGlyphs">SWYYLNANGD</text>
<text class="n" transform="translate(3.7,322.6) scale(.84,1)">641</text>
<rect x="4.20" y="325.02" width="27.00" height="16.0" fill="#cbcbcb"/>
<path d="M4.20 341.02L4.20 336.02L6.90 336.02L6.90 336.52L9.60 336.52L9.60 336.52L12.30 336.52L12.30 336.52L15.00 336.52L15.00 331.02L17.70 331.02L17.70 326.02L20.40 326.02L20.40 325.52L23.10 325.52L23.10 326.02L25.80 326.02L25.80 341.02L28.50 341.02L28.50 341.02L31.20 341.02L31.20 341.02Z" fill="#1434ee"/>
<text class="m" x="4.2" y="347.0" textLength="27.0" lengthAdjust="spacingAndGlyphs">MATGWVKDGD</text>
<text class="n" transform="translate(33.4,322.6) scale(.84,1)">651</text>
<rect x="33.92" y="325.02" width="27.00" height="16.0" fill="#cbcbcb"/>
<path d="M33.92 341.02L33.92 326.02L36.62 326.02L36.62 325.52L39.32 325.52L39.32 325.52L42.02 325.52L42.02 325.52L44.72 325.52L44.72 326.02L47.42 326.02L47.42 332.02L50.12 332.02L50.12 340.02L52.82 340.02L52.82 340.52L55.52 340.52L55.52 339.52L58.22 339.52L58.22 337.52L60.92 337.52L60.92 341.02Z" fill="#1434ee"/>
<text class="m" x="33.9" y="347.0" textLength="27.0" lengthAdjust="spacingAndGlyphs">TWYYLEASGA</text>
<text class="n" transform="translate(63.1,322.6) scale(.84,1)">661</text>
<rect x="63.64" y="325.02" width="27.00" height="16.0" fill="#cbcbcb"/>
<path d="M63.64 341.02L63.64 332.02L66.34 332.02L66.34 333.02L69.04 333.02L69.04 334.52L71.74 334.52L71.74 334.52L74.44 334.52L74.44 329.02L77.14 329.02L77.14 325.52L79.84 325.52L79.84 325.52L82.54 325.52L82.54 325.52L85.24 325.52L85.24 326.02L87.94 326.02L87.94 341.02L90.64 341.02L90.64 341.02Z" fill="#1434ee"/>
<text class="m" x="63.6" y="347.0" textLength="27.0" lengthAdjust="spacingAndGlyphs">MKASQWFKVS</text>
<text class="n" transform="translate(92.9,322.6) scale(.84,1)">671</text>
<rect x="93.36" y="325.02" width="27.00" height="16.0" fill="#cbcbcb"/>
<path d="M93.36 341.02L93.36 341.02L96.06 341.02L96.06 326.02L98.76 326.02L98.76 325.52L101.46 325.52L101.46 325.52L104.16 325.52L104.16 325.52L106.86 325.52L106.86 326.52L109.56 326.52L109.56 338.02L112.26 338.02L112.26 340.72L114.96 340.72L114.96 340.72L117.66 340.72L117.66 337.52L120.36 337.52L120.36 341.02Z" fill="#1434ee"/>
<text class="m" x="93.4" y="347.0" textLength="27.0" lengthAdjust="spacingAndGlyphs">DKWYYVNGSG</text>
<text class="n" transform="translate(122.6,322.6) scale(.84,1)">681</text>
<rect x="123.08" y="325.02" width="27.00" height="16.0" fill="#cbcbcb"/>
<path d="M123.08 341.02L123.08 336.02L125.78 336.02L125.78 333.02L128.48 333.02L128.48 334.52L131.18 334.52L131.18 336.52L133.88 336.52L133.88 338.52L136.58 338.52L136.58 337.52L139.28 337.52L139.28 334.02L141.98 334.02L141.98 334.52L144.68 334.52L144.68 340.02L147.38 340.02L147.38 340.52L150.08 340.52L150.08 341.02Z" fill="#1434ee"/>
<text class="m" x="123.1" y="347.0" textLength="27.0" lengthAdjust="spacingAndGlyphs">ALAVNTTVDG</text>
<text class="n" transform="translate(152.3,322.6) scale(.84,1)">691</text>
<rect x="152.80" y="325.02" width="27.00" height="16.0" fill="#cbcbcb"/>
<path d="M152.80 341.02L152.80 329.02L155.50 329.02L155.50 328.02L158.20 328.02L158.20 329.02L160.90 329.02L160.90 340.02L163.60 340.02L163.60 340.72L166.30 340.72L166.30 340.72L169.00 340.72L169.00 339.52L171.70 339.52L171.70 330.02L174.40 330.02L174.40 326.02L177.10 326.02L177.10 329.52L179.80 329.52L179.80 341.02Z" fill="#1434ee"/>
<text class="m" x="152.8" y="347.0" textLength="27.0" lengthAdjust="spacingAndGlyphs">YGVNANGEWV</text>
<text class="n" transform="translate(182.0,322.6) scale(.84,1)">701</text>
<rect x="182.52" y="325.02" width="2.70" height="16.0" fill="#cbcbcb"/>
<text class="m" x="182.5" y="347.0" textLength="2.7" lengthAdjust="spacingAndGlyphs">N</text>
</g>
<rect x="4" y="54.3" width="108.6" height="24.6" fill="#fff" fill-opacity="0.52" stroke="#3a4a90" stroke-width="0.9"/>
<rect x="29.2" y="216.8" width="4.2" height="27.8" fill="#555"/>
<rect x="15.5" y="359.7" width="8.7" height="7.6" fill="#f01010" stroke="#b00000" stroke-width="0.7"/>
<text class="b" x="28.2" y="366.4" font-size="8.24" stroke="#111" stroke-width=".22">α–helical</text>
<rect x="79.3" y="359.7" width="8.7" height="7.6" fill="#d4d4dc" stroke="#8a8a96" stroke-width="0.7"/>
<text class="b" x="92" y="366.4" font-size="8.2" letter-spacing="-0.08" stroke="#111" stroke-width=".22">coiled coil</text>
<rect x="149.6" y="359.7" width="8.7" height="7.6" fill="#1838f0" stroke="#1020a0" stroke-width="0.7"/>
<text class="b" x="165.6" y="366.4" font-size="8.2" letter-spacing="-0.25" stroke="#111" stroke-width=".22">β–sheet</text>
<g>
<path d="M282 82H288.4M285.2 82V128M285.2 144.5V220M282 220.6H288.4M285.2 222V258.5M285.2 275V317.5M282 317.5H288.4" stroke="#2a2a2a" stroke-width="1" fill="none"/>
<rect x="304" y="80" width="12" height="141" fill="#f80808"/>
<rect x="304" y="221" width="12" height="14" fill="#7c7c7c"/>
<rect x="304" y="235" width="12" height="4.8" fill="#f01018"/>
<rect x="304" y="239.8" width="12" height="5.4" fill="#7c7c7c"/>
<rect x="304" y="245.2" width="12" height="76.4" fill="#1030f0"/>
<path d="M316 104.2H320.8M316 141.3H320.8M316 176.3H320.8M316 212.3H320.8M316 281.5H320.8M316 319H320.5" stroke="#333" stroke-width="0.8" fill="none"/>
<text x="317.8" y="84" font-size="5.8" stroke="#111" stroke-width="0.25">38</text>
<text x="315.8" y="229" font-size="5.8" stroke="#111" stroke-width="0.25">411</text>
<text x="315.8" y="250.6" font-size="5.8" stroke="#111" stroke-width="0.25">483</text>
<text x="316.4" y="325.9" font-size="5.8" stroke="#111" stroke-width="0.25">701</text>
<text x="285.2" y="134.2" font-size="7.6" text-anchor="middle" stroke="#111" stroke-width="0.3">N-terminal</text>
<text x="285.2" y="142.7" font-size="7.6" text-anchor="middle" stroke="#111" stroke-width="0.3">region</text>
<text x="285.2" y="265" font-size="7.6" text-anchor="middle" stroke="#111" stroke-width="0.3">C-terminal</text>
<text x="285.2" y="273.6" font-size="7.6" text-anchor="middle" stroke="#111" stroke-width="0.3">region</text>
<text transform="translate(306.9,141.3) rotate(90) scale(1.14,1)" font-size="6.4" class="b" style="fill:#fff">α helical</text>
<text transform="translate(306.9,262) rotate(90) scale(1.14,1)" font-size="6.4" class="b" style="fill:#fff">β sheet</text>
<defs><linearGradient id="gp"><stop offset="0" stop-color="#f2c0ac"/><stop offset="0.12" stop-color="#ecaaa2"/><stop offset="0.34" stop-color="#f6dcc8"/><stop offset="0.5" stop-color="#fbf4e4"/><stop offset="0.66" stop-color="#f6dcc8"/><stop offset="0.88" stop-color="#ecaaa2"/><stop offset="1" stop-color="#f2c0ac"/></linearGradient><linearGradient id="gt"><stop offset="0" stop-color="#f2d0af"/><stop offset="0.14" stop-color="#efc6a5"/><stop offset="0.5" stop-color="#f9efd7"/><stop offset="0.86" stop-color="#efc6a5"/><stop offset="1" stop-color="#f2d0af"/></linearGradient><linearGradient id="gy"><stop offset="0" stop-color="#ebd46c"/><stop offset="0.14" stop-color="#efda72"/><stop offset="0.5" stop-color="#f9f2a8"/><stop offset="0.86" stop-color="#efda72"/><stop offset="1" stop-color="#ebd46c"/></linearGradient><linearGradient id="gq"><stop offset="0" stop-color="#f2bca8"/><stop offset="0.14" stop-color="#f0b5a0"/><stop offset="0.5" stop-color="#f7f0e1"/><stop offset="0.86" stop-color="#f0b5a0"/><stop offset="1" stop-color="#f2bca8"/></linearGradient><linearGradient id="gg"><stop offset="0" stop-color="#a1d4c0"/><stop offset="0.14" stop-color="#9ed0bc"/><stop offset="0.5" stop-color="#d9efe1"/><stop offset="0.86" stop-color="#9ed0bc"/><stop offset="1" stop-color="#a1d4c0"/></linearGradient><linearGradient id="gl"><stop offset="0" stop-color="#c0c0e8"/><stop offset="0.14" stop-color="#b5b5e4"/><stop offset="0.5" stop-color="#e1e1f5"/><stop offset="0.86" stop-color="#b5b5e4"/><stop offset="1" stop-color="#c0c0e8"/></linearGradient><linearGradient id="gd"><stop offset="0" stop-color="#748dca"/><stop offset="0.14" stop-color="#6f8ac6"/><stop offset="0.5" stop-color="#a8c0e4"/><stop offset="0.86" stop-color="#6f8ac6"/><stop offset="1" stop-color="#748dca"/></linearGradient><linearGradient id="gb"><stop offset="0" stop-color="#a8b1e4"/><stop offset="0.14" stop-color="#a2abe1"/><stop offset="0.5" stop-color="#d8def5"/><stop offset="0.86" stop-color="#a2abe1"/><stop offset="1" stop-color="#a8b1e4"/></linearGradient><linearGradient id="gv"><stop offset="0" stop-color="#7c76bb"/><stop offset="0.14" stop-color="#7670b4"/><stop offset="0.5" stop-color="#bbb4e0"/><stop offset="0.86" stop-color="#7670b4"/><stop offset="1" stop-color="#7c76bb"/></linearGradient><radialGradient id="ge"><stop offset="0" stop-color="#dcf8cc"/><stop offset="1" stop-color="#a8dc90"/></radialGradient></defs>
<rect x="367.3" y="81.5" width="16.2" height="44.30" fill="url(#gp)"/>
<rect x="367.3" y="93.6" width="16.2" height="2.90" fill="#c63a56"/>
<rect x="367.3" y="123.8" width="16.2" height="1.90" fill="#c43450"/>
<rect x="367.3" y="127.2" width="16.2" height="36.00" fill="url(#gt)"/>
<rect x="367.3" y="136.6" width="16.2" height="2.80" fill="#4f9080"/>
<rect x="367.3" y="165.4" width="16.2" height="13.60" fill="url(#gy)"/>
<rect x="367.3" y="179" width="16.2" height="43.00" fill="url(#gq)"/>
<rect x="366.8" y="179.3" width="17.2" height="6.4" rx="2.2" fill="#fcf4d4" stroke="#111" stroke-width="0.9"/>
<rect x="367.3" y="194" width="16.2" height="2.60" fill="#3f8878"/>
<rect x="367.3" y="222" width="16.2" height="24.60" fill="url(#gg)"/>
<ellipse cx="375.40000000000003" cy="235.6" rx="6.9" ry="5.7" fill="url(#ge)" stroke="#4c8048" stroke-width="0.6"/>
<rect x="367.3" y="246.4" width="16.2" height="1.40" fill="#5c9c94"/>
<rect x="367.3" y="249.2" width="16.2" height="3.10" fill="url(#gl)"/>
<rect x="367.3" y="252.3" width="16.2" height="5.30" fill="url(#gd)"/>
<rect x="367.3" y="257.6" width="16.2" height="43.40" fill="url(#gb)"/>
<rect x="367.3" y="301" width="16.2" height="20.80" fill="url(#gv)"/>
<rect x="367.3" y="262.40000000000003" width="16.2" height="0.9" fill="#5850a8" fill-opacity=".7"/>
<rect x="367.3" y="266.5" width="16.2" height="0.9" fill="#5850a8" fill-opacity=".7"/>
<rect x="367.3" y="270.5" width="16.2" height="0.9" fill="#5850a8" fill-opacity=".7"/>
<rect x="367.3" y="274.6" width="16.2" height="0.9" fill="#5850a8" fill-opacity=".7"/>
<rect x="367.3" y="280.5" width="16.2" height="0.9" fill="#5850a8" fill-opacity=".7"/>
<rect x="367.3" y="286.5" width="16.2" height="0.9" fill="#5850a8" fill-opacity=".7"/>
<rect x="367.3" y="293.40000000000003" width="16.2" height="0.9" fill="#5850a8" fill-opacity=".7"/>
<rect x="367.3" y="306.5" width="16.2" height="1.1" fill="#e4e4f8" fill-opacity=".75"/>
<rect x="367.3" y="312.8" width="16.2" height="1.1" fill="#e4e4f8" fill-opacity=".75"/>
<rect x="367.3" y="319.8" width="16.2" height="1.1" fill="#e4e4f8" fill-opacity=".75"/>
<rect x="375.00000000000006" y="125.6" width="0.8" height="1.8" fill="#222"/>
<rect x="375.00000000000006" y="163.29999999999998" width="0.8" height="1.8" fill="#222"/>
<rect x="375.00000000000006" y="185.7" width="0.8" height="1.8" fill="#222"/>
<rect x="375.00000000000006" y="247.7" width="0.8" height="1.8" fill="#222"/>
<path d="M279.3 220.9L421.2 222.2" stroke="#505050" stroke-width="3.4" fill="none"/>
<text class="d" x="408.3" y="101.8">Hypervariable</text>
<text class="d" x="408.3" y="109.0">Domain</text>
<text class="d" x="408.3" y="139.8">Repeat</text>
<text class="d" x="408.3" y="147.0">Domain</text>
<text class="d" x="408.3" y="171.2">Random</text>
<text class="d" x="408.3" y="178.4">Coil</text>
<text class="d" x="408.3" y="185.6">Domain</text>
<text class="d" x="408.3" y="203.2">Repeat</text>
<text class="d" x="408.3" y="210.4">Domain</text>
<text class="d" x="408.3" y="232.0">Proline</text>
<text class="d" x="408.3" y="239.2">Rich</text>
<text class="d" x="408.3" y="246.4">Domain</text>
<text class="d" x="408.3" y="281.5">Choline</text>
<text class="d" x="408.3" y="288.7">Binding</text>
<text class="d" x="408.3" y="295.9">Domain</text>
</g>
<g>
<path d="M531 269.0L541 262.0H613M531 234.8L541 227.8H613M531 200.5L541 193.5H613M531 166.2L541 159.2H613M531 132.0L541 125.0H613" stroke="#d4d4d4" stroke-width="0.8" fill="none"/>
<path d="M541 125V262" stroke="#ececec" stroke-width="0.6" fill="none"/>
<path d="M531 132V269.4M531 132H534M531 166.2H534M531 200.5H534M531 234.7H534M531 269H534" stroke="#4a4a4a" stroke-width="0.9" fill="none"/>
<text class="b" x="523.5" y="272.4" font-size="10" text-anchor="end">0%</text>
<text class="b" x="523.5" y="238.2" font-size="10" text-anchor="end">25%</text>
<text class="b" x="523.5" y="203.9" font-size="10" text-anchor="end">50%</text>
<text class="b" x="523.5" y="169.7" font-size="10" text-anchor="end">75%</text>
<text class="b" x="523.5" y="135.4" font-size="10" text-anchor="end">100%</text>
<text class="b" transform="translate(496.6,200.5) rotate(-90)" font-size="9.3" text-anchor="middle">Percent</text>
<rect x="545" y="219.5" width="15.0" height="47.5" fill="#4f7d33"/>
<path d="M560 267.0L564.2 263.8V216.3L560 219.5Z" fill="#3b5e26"/>
<rect x="545" y="194.3" width="15.0" height="25.3" fill="#fdd966"/>
<path d="M560 219.5L564.2 216.3V191.1L560 194.3Z" fill="#c9a840"/>
<rect x="545" y="191.8" width="15.0" height="2.5" fill="#0a0a0a"/>
<path d="M560 194.3L564.2 191.1V188.6L560 191.8Z" fill="#000"/>
<rect x="545" y="129.0" width="15.0" height="62.8" fill="#fb0d0d"/>
<path d="M560 191.8L564.2 188.6V125.8L560 129.0Z" fill="#b00808"/>
<path d="M545 129.0L549.2 125.8H564.2L560 129.0Z" fill="#c00c0c"/>
<rect x="581" y="212.8" width="15.5" height="54.2" fill="#4f7d33"/>
<path d="M596.5 267.0L600.7 263.8V209.6L596.5 212.8Z" fill="#3b5e26"/>
<rect x="581" y="162.3" width="15.5" height="50.5" fill="#fdd966"/>
<path d="M596.5 212.8L600.7 209.6V159.1L596.5 162.3Z" fill="#c9a840"/>
<rect x="581" y="150.1" width="15.5" height="12.1" fill="#0a0a0a"/>
<path d="M596.5 162.3L600.7 159.1V146.9L596.5 150.1Z" fill="#000"/>
<rect x="581" y="129.0" width="15.5" height="21.1" fill="#fb0d0d"/>
<path d="M596.5 150.1L600.7 146.9V125.8L596.5 129.0Z" fill="#b00808"/>
<path d="M581 129.0L585.2 125.8H600.7L596.5 129.0Z" fill="#c00c0c"/>
<text class="b" x="613.5" y="137.4" font-size="8">charged</text>
<text class="b" x="613.5" y="155.7" font-size="8">Tyr</text>
<text class="b" x="613.5" y="187.7" font-size="8">polar, amphipathic</text>
<text class="b" x="613.5" y="246.3" font-size="8">hydrophobic</text>
<text class="b" transform="translate(553.2,278.2) rotate(-59)" font-size="9.3" text-anchor="end" stroke="#111" stroke-width=".3">N-terminal</text>
<text class="b" transform="translate(590.2,278.2) rotate(-59)" font-size="9.3" text-anchor="end" stroke="#111" stroke-width=".3">C-terminal</text>
</g>
</svg>
</body></html>
